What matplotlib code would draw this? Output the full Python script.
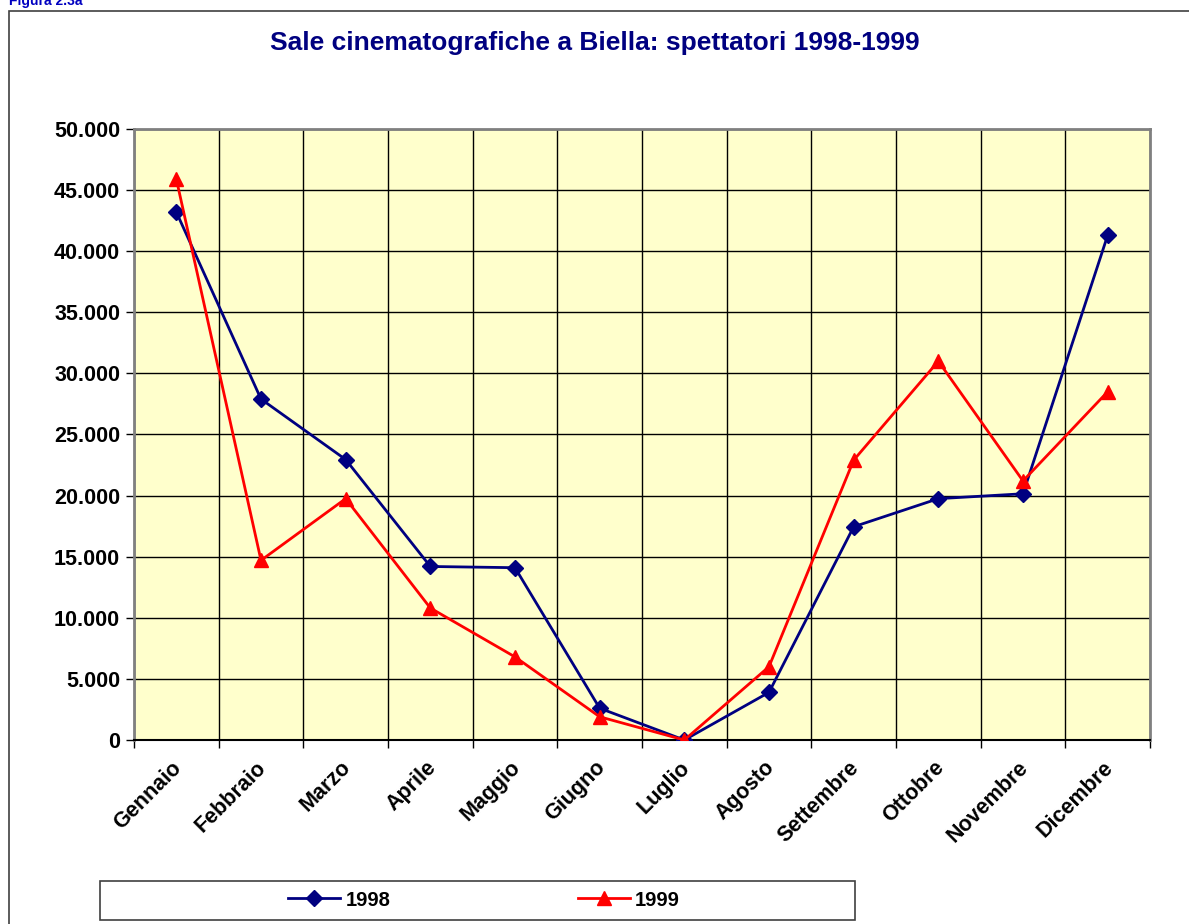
import matplotlib
matplotlib.use("Agg")
import matplotlib.pyplot as plt
import matplotlib.transforms as mtransforms
from matplotlib.ticker import FuncFormatter, MultipleLocator, FixedLocator, NullFormatter
from matplotlib.lines import Line2D
from matplotlib.patches import Rectangle

plt.rcParams['font.family'] = ['Liberation Sans', 'DejaVu Sans']

months = ["Gennaio", "Febbraio", "Marzo", "Aprile", "Maggio", "Giugno",
          "Luglio", "Agosto", "Settembre", "Ottobre", "Novembre", "Dicembre"]
spettatori_1998 = [43200, 27900, 22950, 14200, 14100, 2600, 0, 3900, 17450, 19750, 20150, 41300]
spettatori_1999 = [45900, 14700, 19750, 10800, 6800, 1900, 0, 6000, 22900, 31000, 21200, 28500]
series_labels = ["1998", "1999"]
title = "Sale cinematografiche a Biella: spettatori 1998-1999"

W, H = 1189, 924
fig = plt.figure(figsize=(W / 100, H / 100), dpi=100)
fig.patch.set_facecolor("white")

# outer chart border (cropped)
fig.patches.append(Rectangle((9 / W, -0.05), 1.1, (H - 11) / H + 0.05, transform=fig.transFigure,
                             fill=False, edgecolor="#404040", linewidth=1.2))
fig.text(9 / W, 1 - 5 / H, "Figura 2.3a", color="#0000C0", fontsize=10, fontweight="bold",
         ha="left", va="baseline")

left, right, top, bottom = 134, 1150, 129, 740
ax = fig.add_axes([left / W, 1 - bottom / H, (right - left) / W, (bottom - top) / H])
ax.set_facecolor("#FFFFCC")

x = list(range(len(months)))
navy = "#000080"
red = "#FF0000"
ax.plot(x, spettatori_1998, color=navy, lw=2, marker="D", markersize=8, zorder=3)
ax.plot(x, spettatori_1999, color=red, lw=2, marker="^", markersize=10, zorder=4)

ax.set_xlim(-0.5, len(months) - 0.5)
ax.set_ylim(0, 50000)
ax.yaxis.set_major_locator(MultipleLocator(5000))
ax.yaxis.set_major_formatter(FuncFormatter(lambda v, p: f"{int(v):,}".replace(",", ".")))
ax.set_xticks(x)
ax.set_xticklabels(months, rotation=45, ha="right", rotation_mode="anchor")
ax.xaxis.set_minor_locator(FixedLocator([i - 0.5 for i in range(len(months) + 1)]))
ax.xaxis.set_minor_formatter(NullFormatter())
ax.tick_params(axis="x", which="major", length=0, pad=16)
ax.tick_params(axis="x", which="minor", length=6, width=1, color="black")
ax.tick_params(axis="y", length=6, width=1, pad=4)
offset = mtransforms.ScaledTranslation(-0.05, 0.05, fig.dpi_scale_trans)
for lab in ax.get_xticklabels():
    lab.set_transform(lab.get_transform() + offset)
for lab in ax.get_xticklabels() + ax.get_yticklabels():
    lab.set_fontweight("bold")
    lab.set_fontsize(15.5)
ax.grid(True, axis="y", which="major", color="black", lw=1)
ax.grid(True, axis="x", which="minor", color="black", lw=1)
ax.grid(False, axis="x", which="major")
ax.set_axisbelow(True)
for name, sp in ax.spines.items():
    sp.set_color("#808080")
    sp.set_linewidth(2)
ax.spines["bottom"].set_color("black")
ax.spines["bottom"].set_linewidth(1.5)

fig.text(595 / W, 1 - 43 / H, title, color=navy, fontsize=19, fontweight="bold",
         ha="center", va="center")

# legend box
fig.patches.append(Rectangle((100 / W, 1 - 920 / H), 755 / W, 39 / H, transform=fig.transFigure,
                             fill=False, edgecolor="#404040", linewidth=1.2))
handles = [Line2D([], [], color=navy, lw=2, marker="D", markersize=8),
           Line2D([], [], color=red, lw=2, marker="^", markersize=10)]
leg = fig.legend(handles, series_labels, loc="center", ncol=2,
                 bbox_to_anchor=(484 / W, 1 - 900 / H), frameon=False,
                 handlelength=2.6, handletextpad=0.25, columnspacing=9.3,
                 prop={"weight": "bold", "size": 14.5})

fig.savefig("out.png", dpi=100)
